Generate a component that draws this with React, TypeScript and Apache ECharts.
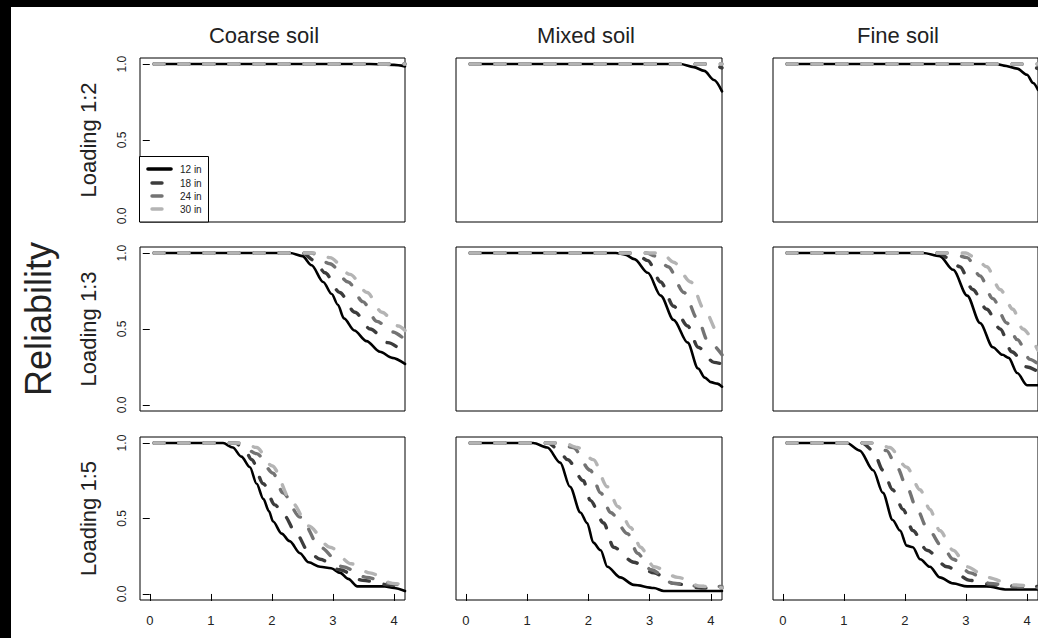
import React, { useEffect, useRef } from "react";
import * as echarts from "echarts";

type Pt = [number, number];

// ---------- labels ----------
const soilTypes = ["Coarse soil", "Mixed soil", "Fine soil"];
const loadings = ["Loading 1:2", "Loading 1:3", "Loading 1:5"];
const depths = ["12 in", "18 in", "24 in", "30 in"];
const yTicks = [0, 0.5, 1];
const xTicks = [0, 1, 2, 3, 4];
const yAxisTitle = "Reliability";

// ---------- data: each panel = [12 in, 18 in, 24 in, 30 in] ----------
// Loading 1:2
const coarseL2: Pt[][] = [
  [[0.07, 1], [3.6, 1], [4.0, 0.995], [4.18, 0.985]],
  [[0.07, 1], [4.18, 1]],
  [[0.07, 1], [4.18, 1]],
  [[0.07, 1], [4.18, 1]],
];
const mixedL2: Pt[][] = [
  [[0.07, 1], [3.5, 1], [3.72, 0.98], [3.89, 0.955], [4.05, 0.895], [4.18, 0.82]],
  [[0.07, 1], [3.95, 1], [4.18, 0.975]],
  [[0.07, 1], [4.18, 1]],
  [[0.07, 1], [4.18, 1]],
];
const fineL2: Pt[][] = [
  [[0.07, 1], [3.5, 1], [3.62, 0.99], [3.84, 0.97], [4.0, 0.93], [4.1, 0.875], [4.18, 0.83]],
  [[0.07, 1], [3.9, 1], [4.18, 0.97]],
  [[0.07, 1], [4.18, 1]],
  [[0.07, 1], [4.18, 1]],
];
// Loading 1:3
const coarseL3: Pt[][] = [
  [[0.07, 1], [2.3, 1], [2.5, 0.98], [2.65, 0.92], [2.84, 0.81], [2.98, 0.73], [3.08, 0.66], [3.18, 0.57], [3.35, 0.49], [3.55, 0.42], [3.77, 0.35], [3.97, 0.31], [4.18, 0.27]],
  [[0.07, 1], [2.5, 1], [2.7, 0.95], [2.87, 0.87], [3.11, 0.74], [3.36, 0.61], [3.61, 0.5], [3.9, 0.41], [4.18, 0.34]],
  [[0.07, 1], [2.65, 1], [2.95, 0.93], [3.25, 0.81], [3.49, 0.68], [3.72, 0.55], [3.98, 0.48], [4.18, 0.43]],
  [[0.07, 1], [2.75, 1], [2.95, 0.97], [3.28, 0.86], [3.56, 0.74], [3.8, 0.61], [4.07, 0.52], [4.18, 0.49]],
];
const mixedL3: Pt[][] = [
  [[0.07, 1], [2.45, 1], [2.6, 0.99], [2.75, 0.96], [2.97, 0.87], [3.18, 0.72], [3.39, 0.56], [3.62, 0.41], [3.79, 0.24], [3.9, 0.18], [4.0, 0.15], [4.1, 0.14], [4.18, 0.12]],
  [[0.07, 1], [2.65, 1], [2.8, 0.99], [2.97, 0.95], [3.18, 0.81], [3.39, 0.65], [3.62, 0.52], [3.79, 0.38], [4.05, 0.28], [4.18, 0.27]],
  [[0.07, 1], [2.95, 1], [3.1, 0.98], [3.3, 0.91], [3.56, 0.74], [3.79, 0.56], [3.95, 0.42], [4.18, 0.33]],
  [[0.07, 1], [3.2, 1], [3.39, 0.94], [3.67, 0.81], [3.89, 0.63], [4.11, 0.48], [4.18, 0.45]],
];
const fineL3: Pt[][] = [
  [[0.07, 1], [2.3, 1], [2.57, 0.98], [2.79, 0.89], [3.02, 0.72], [3.23, 0.54], [3.44, 0.38], [3.6, 0.33], [3.7, 0.31], [3.84, 0.21], [4.0, 0.13], [4.18, 0.13]],
  [[0.07, 1], [2.55, 1], [2.7, 0.97], [2.9, 0.91], [3.11, 0.76], [3.34, 0.63], [3.56, 0.5], [3.75, 0.35], [4.0, 0.25], [4.18, 0.22]],
  [[0.07, 1], [2.75, 1], [3.02, 0.97], [3.23, 0.85], [3.44, 0.7], [3.67, 0.54], [3.84, 0.43], [4.05, 0.3], [4.18, 0.27]],
  [[0.07, 1], [3.0, 1], [3.15, 0.97], [3.34, 0.91], [3.56, 0.76], [3.77, 0.63], [3.93, 0.5], [4.18, 0.36]],
];
// Loading 1:5
const coarseL5: Pt[][] = [
  [[0.07, 1], [1.2, 1], [1.36, 0.97], [1.5, 0.91], [1.64, 0.84], [1.75, 0.73], [1.86, 0.63], [1.95, 0.55], [2.02, 0.48], [2.16, 0.4], [2.29, 0.35], [2.46, 0.27], [2.6, 0.21], [2.79, 0.18], [2.97, 0.17], [3.12, 0.14], [3.25, 0.1], [3.4, 0.05], [3.85, 0.05], [4.0, 0.04], [4.18, 0.02]],
  [[0.07, 1], [1.4, 1], [1.55, 0.96], [1.67, 0.89], [1.86, 0.73], [2.05, 0.59], [2.2, 0.52], [2.4, 0.4], [2.6, 0.28], [2.79, 0.23], [3.11, 0.16], [3.49, 0.09], [3.93, 0.06], [4.18, 0.04]],
  [[0.07, 1], [1.45, 1], [1.75, 0.93], [2.02, 0.8], [2.18, 0.67], [2.46, 0.51], [2.79, 0.31], [3.16, 0.18], [3.55, 0.11], [3.93, 0.07], [4.18, 0.05]],
  [[0.07, 1], [1.55, 1], [1.75, 0.97], [2.0, 0.85], [2.34, 0.6], [2.6, 0.45], [2.95, 0.31], [3.3, 0.2], [3.6, 0.14], [3.98, 0.07], [4.18, 0.06]],
];
const mixedL5: Pt[][] = [
  [[0.07, 1], [1.1, 1], [1.33, 0.97], [1.54, 0.87], [1.7, 0.71], [1.87, 0.54], [1.98, 0.47], [2.08, 0.34], [2.2, 0.29], [2.31, 0.18], [2.52, 0.11], [2.74, 0.06], [3.07, 0.04], [3.23, 0.02], [4.18, 0.02]],
  [[0.07, 1], [1.35, 1], [1.5, 0.96], [1.66, 0.89], [1.92, 0.75], [2.03, 0.62], [2.25, 0.47], [2.41, 0.31], [2.74, 0.21], [3.07, 0.14], [3.39, 0.07], [3.84, 0.04], [4.18, 0.04]],
  [[0.07, 1], [1.5, 1], [1.75, 0.97], [2.03, 0.82], [2.2, 0.67], [2.36, 0.54], [2.64, 0.4], [2.8, 0.27], [3.02, 0.16], [3.39, 0.07], [3.84, 0.05], [4.18, 0.05]],
  [[0.07, 1], [1.6, 1], [1.82, 0.97], [2.08, 0.89], [2.31, 0.71], [2.48, 0.58], [2.69, 0.44], [2.85, 0.31], [3.07, 0.18], [3.46, 0.11], [3.84, 0.05], [4.18, 0.04]],
];
const fineL5: Pt[][] = [
  [[0.07, 1], [1.05, 1], [1.26, 0.95], [1.48, 0.82], [1.64, 0.67], [1.8, 0.49], [1.92, 0.42], [2.03, 0.32], [2.13, 0.31], [2.25, 0.23], [2.41, 0.18], [2.57, 0.11], [2.79, 0.07], [3.02, 0.05], [3.34, 0.05], [3.67, 0.03], [4.18, 0.03]],
  [[0.07, 1], [1.3, 1], [1.48, 0.95], [1.64, 0.82], [1.8, 0.69], [1.97, 0.56], [2.13, 0.42], [2.36, 0.29], [2.69, 0.18], [3.07, 0.09], [3.44, 0.06], [3.89, 0.05], [4.18, 0.05]],
  [[0.07, 1], [1.45, 1], [1.7, 0.95], [1.87, 0.84], [2.03, 0.71], [2.2, 0.56], [2.36, 0.44], [2.62, 0.31], [2.79, 0.23], [3.07, 0.14], [3.39, 0.07], [3.77, 0.05], [4.18, 0.04]],
  [[0.07, 1], [1.55, 1], [1.75, 0.97], [2.03, 0.84], [2.25, 0.69], [2.41, 0.56], [2.57, 0.42], [2.79, 0.29], [3.02, 0.18], [3.34, 0.11], [3.77, 0.06], [4.18, 0.05]],
];

const panels: Pt[][][][] = [
  [coarseL2, mixedL2, fineL2],
  [coarseL3, mixedL3, fineL3],
  [coarseL5, mixedL5, fineL5],
];

// ---------- styling / layout ----------
const FONT = "'Liberation Sans', Arial, Helvetica, sans-serif";
const TEXT = "#222";
const lineColors = ["#000000", "#3c3c3c", "#737373", "#b4b4b4"];
const lineWidths = [2.6, 3.4, 3.4, 3.4];
const DASH = [10, 15];

const colLeft = [140, 456, 773];
const colWidth = [265, 266, 265];
const rowTop = [58, 247, 437];
const rowHeight = [164, 164, 163];
const titleX = [264, 586, 898];

export default function App() {
  const ref = useRef<HTMLDivElement>(null);

  useEffect(() => {
    if (!ref.current) return;
    const chart = echarts.init(ref.current, undefined, { renderer: "svg" });

    const grid: any[] = [];
    const xAxis: any[] = [];
    const yAxis: any[] = [];
    const series: any[] = [];

    for (let r = 0; r < 3; r++) {
      for (let c = 0; c < 3; c++) {
        const idx = r * 3 + c;
        grid.push({
          left: colLeft[c],
          top: rowTop[r],
          width: colWidth[c],
          height: rowHeight[r],
          show: true,
          borderColor: "#000",
          borderWidth: 1,
          backgroundColor: "transparent",
          containLabel: false,
        });
        const bottom = r === 2;
        xAxis.push({
          type: "value",
          gridIndex: idx,
          min: -0.16,
          max: 4.18,
          axisLine: { show: false },
          splitLine: { show: false },
          axisTick: {
            show: bottom,
            length: 7,
            customValues: xTicks,
            lineStyle: { color: "#000" },
          },
          axisLabel: { show: false },
        });
        const left = c === 0;
        yAxis.push({
          type: "value",
          gridIndex: idx,
          min: -0.04,
          max: 1.04,
          axisLine: { show: false },
          splitLine: { show: false },
          axisTick: {
            show: left,
            length: 7,
            customValues: yTicks,
            lineStyle: { color: "#000" },
          },
          axisLabel: { show: false },
        });
        const pdata = panels[r][c];
        for (let d = 0; d < 4; d++) {
          series.push({
            type: "line",
            name: depths[d],
            xAxisIndex: idx,
            yAxisIndex: idx,
            data: pdata[d],
            showSymbol: false,
            symbol: "none",
            smooth: 0.3,
            smoothMonotone: "x",
            clip: true,
            z: 2 + d,
            lineStyle: {
              color: lineColors[d],
              width: lineWidths[d],
              type: d === 0 ? "solid" : DASH,
              cap: "round",
              join: "round",
            },
          });
        }
      }
    }

    const graphic: any[] = [
      { type: "rect", shape: { x: 0, y: 0, width: 1038, height: 7 }, style: { fill: "#000" }, silent: true },
      { type: "rect", shape: { x: 0, y: 0, width: 11, height: 638 }, style: { fill: "#000" }, silent: true },
    ];
    soilTypes.forEach((t, i) => {
      graphic.push({
        type: "text",
        x: titleX[i],
        y: 35,
        style: { text: t, fontSize: 22, fontFamily: FONT, fill: TEXT, textAlign: "center", textVerticalAlign: "middle" },
        silent: true,
      });
    });
    loadings.forEach((t, i) => {
      graphic.push({
        type: "text",
        x: 88,
        y: rowTop[i] + rowHeight[i] / 2,
        rotation: Math.PI / 2,
        style: { text: t, fontSize: 22, fontFamily: FONT, fill: TEXT, textAlign: "center", textVerticalAlign: "middle" },
        silent: true,
      });
    });
    graphic.push({
      type: "text",
      x: 38,
      y: 319,
      rotation: Math.PI / 2,
      style: { text: yAxisTitle, fontSize: 36, fontFamily: FONT, fill: TEXT, textAlign: "center", textVerticalAlign: "middle" },
      silent: true,
    });

    // legend (inside first panel)
    const legX = 139.5, legY = 156.5, legW = 69, legH = 65.5;
    graphic.push({
      type: "rect",
      shape: { x: legX, y: legY, width: legW, height: legH },
      style: { fill: "#fff", stroke: "#000", lineWidth: 1 },
      z: 10,
      silent: true,
    });
    const legRows = [169, 183, 196, 209];
    depths.forEach((t, d) => {
      graphic.push({
        type: "line",
        shape: d === 0 ? { x1: 148, y1: legRows[d], x2: 171, y2: legRows[d] } : { x1: 152, y1: legRows[d], x2: 162, y2: legRows[d] },
        style: { stroke: lineColors[d], lineWidth: d === 0 ? 3.6 : 3.4, lineCap: "round" },
        z: 11,
        silent: true,
      });
      graphic.push({
        type: "text",
        x: 180,
        y: legRows[d],
        style: { text: t, fontSize: 10, fontFamily: FONT, fill: TEXT, textAlign: "left", textVerticalAlign: "middle" },
        z: 11,
        silent: true,
      });
    });

    chart.setOption({
      animation: false,
      backgroundColor: "#fff",
      grid,
      xAxis,
      yAxis,
      series,
      graphic,
    });

    // tick labels positioned through the axes' own scales
    const tickLabels: any[] = [];
    for (let r = 0; r < 3; r++) {
      const idx = r * 3;
      yTicks.forEach((v) => {
        const py = chart.convertToPixel({ yAxisIndex: idx }, v) as number;
        tickLabels.push({
          type: "text",
          x: colLeft[0] - 18,
          y: py,
          rotation: Math.PI / 2,
          style: { text: v.toFixed(1), fontSize: 12, fontFamily: FONT, fill: TEXT, textAlign: "center", textVerticalAlign: "middle" },
          silent: true,
        });
      });
    }
    for (let c = 0; c < 3; c++) {
      const idx = 6 + c;
      xTicks.forEach((v) => {
        const px = chart.convertToPixel({ xAxisIndex: idx }, v) as number;
        tickLabels.push({
          type: "text",
          x: px,
          y: 620,
          style: { text: String(v), fontSize: 13, fontFamily: FONT, fill: TEXT, textAlign: "center", textVerticalAlign: "middle" },
          silent: true,
        });
      });
    }
    chart.setOption({ graphic: graphic.concat(tickLabels) });

    return () => chart.dispose();
  }, []);

  return (
    <div
      ref={ref}
      style={{ position: "absolute", left: 0, top: 0, width: 1038, height: 638 }}
    />
  );
}
